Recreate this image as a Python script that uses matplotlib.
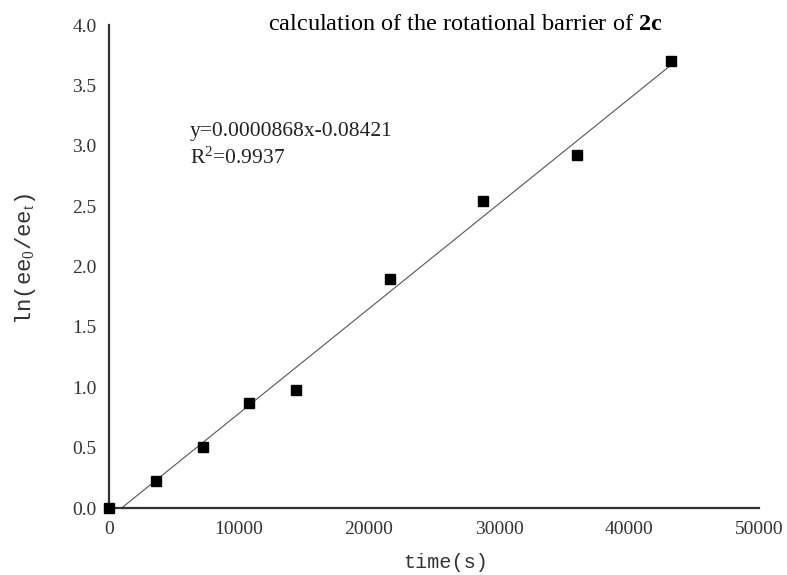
import matplotlib
matplotlib.use("Agg")
import matplotlib.pyplot as plt
import numpy as np

# data
time_s = [0, 3600, 7200, 10800, 14400, 21600, 28800, 36000, 43200]
ln_ratio = [0.0, 0.22, 0.505, 0.87, 0.98, 1.90, 2.54, 2.92, 3.70]
slope = 0.0000868
intercept = -0.08421
r2 = 0.9937
x_ticks = [0, 10000, 20000, 30000, 40000, 50000]
y_ticks = [0.0, 0.5, 1.0, 1.5, 2.0, 2.5, 3.0, 3.5, 4.0]

plt.rcParams["mathtext.fontset"] = "custom"
plt.rcParams["mathtext.rm"] = "Liberation Serif"
plt.rcParams["mathtext.it"] = "Liberation Serif"
plt.rcParams["mathtext.bf"] = "Liberation Serif:bold"

fig = plt.figure(figsize=(7.87, 5.75), dpi=100)
ax = fig.add_axes([0.1385, 0.1165, 0.9644 - 0.1385, 0.9565 - 0.1165])

# fitted line, clipped at y=0 by the axes
fit_x = np.array([0, time_s[-1]])
fit_y = slope * fit_x + intercept
ax.plot(fit_x, fit_y, color="#555555", lw=0.8)
ax.plot(time_s, ln_ratio, ls="none", marker="s", ms=7.5, color="black", clip_on=False, zorder=3)

ax.set_xlim(0, 50000)
ax.set_ylim(0, 4.0)
ax.set_xticks(x_ticks)
ax.set_yticks(y_ticks)
ax.set_xticklabels([str(v) for v in x_ticks], fontfamily="Liberation Serif", fontsize=14, color="#333333")
ax.set_yticklabels(["%.1f" % v for v in y_ticks], fontfamily="Liberation Serif", fontsize=14, color="#333333")
ax.tick_params(length=0, pad=9)

for s in ["top", "right"]:
    ax.spines[s].set_visible(False)
for s in ["left", "bottom"]:
    ax.spines[s].set_color("#333333")
    ax.spines[s].set_linewidth(1.6)

fig.text(446 / 787, 1 - 562 / 575, "time(s)", fontfamily="Liberation Mono", fontsize=14.5,
         color="#333333", ha="center", va="center")
fig.text(25 / 787, 1 - 259 / 575, r"ln(ee$_{0}$/ee$_{t}$)", fontfamily="Liberation Mono", fontsize=16,
         color="#333333", ha="center", va="center", rotation=90)

fig.text(268 / 787, 1 - 24 / 575, r"calculation of the rotational barrier of $\mathbf{2c}$",
         fontfamily="Liberation Serif", fontsize=17.5, va="center", ha="left")
ax.text(0.124, 0.78, "y=%.7fx%.5f" % (slope, intercept), transform=ax.transAxes, va="center",
        fontfamily="Liberation Serif", fontsize=15.5, color="#222222")
ax.text(0.124, 0.725, r"R$^{2}$=%.4f" % r2, transform=ax.transAxes, va="center",
        fontfamily="Liberation Serif", fontsize=15.5, color="#222222")

fig.savefig("out.png", dpi=100)
